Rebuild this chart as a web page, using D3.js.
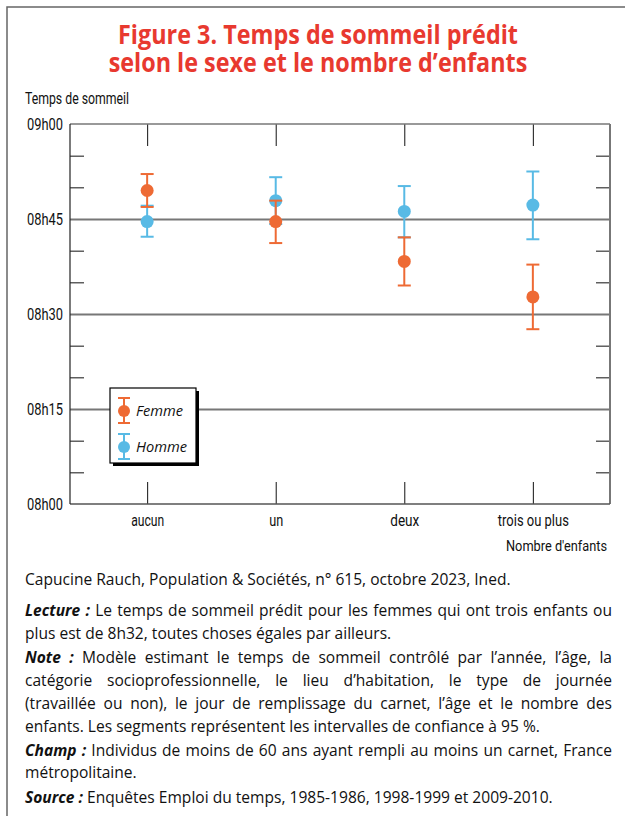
<!DOCTYPE html>
<html><head><meta charset="utf-8">
<script src="https://cdn.jsdelivr.net/npm/d3@7"></script>
<style>body{margin:0;background:#fff}</style>
</head><body>
<svg id="c" width="625" height="816"></svg>
<script>
// ---- data (minutes since midnight) ----
const categories = ["aucun", "un", "deux", "trois ou plus"];
const femme     = [529.5, 524.6, 518.3, 512.7];
const femmeLow  = [526.9, 521.2, 514.5, 507.6];
const femmeHigh = [532.1, 527.9, 522.1, 517.8];
const homme     = [524.6, 527.9, 526.2, 527.2];
const hommeLow  = [522.2, 524.2, 522.1, 521.8];
const hommeHigh = [527.1, 531.6, 530.2, 532.5];
const yTickValues = [480, 495, 510, 525, 540];
const yTickLabels = ["08h00", "08h15", "08h30", "08h45", "09h00"];
const gridValues = [495, 510, 525];
const minorTickValues = [485, 490, 500, 505, 515, 520, 530, 535];
const seriesNames = ["Femme", "Homme"];
const seriesColors = ["#ee6a34", "#58bae5"];
const titleLines = ["Figure 3. Temps de sommeil prédit", "selon le sexe et le nombre d’enfants"];
const yAxisTitle = "Temps de sommeil";
const xAxisTitle = "Nombre d'enfants";
const footLines = [
  [["", "Capucine Rauch, Population & Sociétés, n° 615, octobre 2023, Ined."]],
  [["b", "Lecture :"], ["", " Le temps de sommeil prédit pour les femmes qui ont trois enfants ou"]],
  [["", "plus est de 8h32, toutes choses égales par ailleurs."]],
  [["b", "Note :"], ["", " Modèle estimant le temps de sommeil contrôlé par l’année, l’âge, la"]],
  [["", "catégorie socioprofessionnelle, le lieu d’habitation, le type de journée"]],
  [["", "(travaillée ou non), le jour de remplissage du carnet, l’âge et le nombre des"]],
  [["", "enfants. Les segments représentent les intervalles de confiance à 95 %."]],
  [["b", "Champ :"], ["", " Individus de moins de 60 ans ayant rempli au moins un carnet, France"]],
  [["", "métropolitaine."]],
  [["b", "Source :"], ["", " Enquêtes Emploi du temps, 1985-1986, 1998-1999 et 2009-2010."]]
];
const justifiedLines = [1, 3, 4, 5, 7];

// ---- layout ----
const svg = d3.select("#c");
const W = 625, H = 816;
const cond = "'Liberation Sans Narrow','Roboto','Open Sans',sans-serif";
const body = "'Open Sans','Noto Sans',sans-serif";
const fit = (sel, w, adj) => sel.attr("textLength", w).attr("lengthAdjust", adj || "spacingAndGlyphs");

// outer frame (left and top)
svg.append("path").attr("d", `M7,${H} V7 H${W}`).attr("fill", "none")
  .attr("stroke", "#666").attr("stroke-width", 1.5);

// title: a single text with two lines, condensed uniformly
const title = svg.append("text").attr("font-family", body).attr("font-weight", 700)
  .attr("font-size", 26).attr("fill", "#e8392f").attr("text-anchor", "middle");
titleLines.forEach((t, i) => {
  title.append("tspan").attr("x", 0).attr("y", 44 + i * 28).text(t);
});
const tw = title.select("tspan").node().getComputedTextLength();
const tsx = 400 / tw;
title.attr("transform", `translate(318,0) scale(${tsx},1)`);

// plot area
const m = {l: 70, r: 610, t: 124, b: 504};
const x = d3.scalePoint().domain(categories).range([m.l, m.r]).padding(0.6);
const y = d3.scaleLinear().domain([480, 540]).range([m.b, m.t]);

// grid
svg.append("g").attr("transform", `translate(${m.l},0)`)
  .call(d3.axisLeft(y).tickValues(gridValues).tickSize(-(m.r - m.l)).tickFormat(""))
  .call(g => g.select(".domain").remove())
  .call(g => g.selectAll("line").attr("stroke", "#777").attr("stroke-width", 2));

// minor ticks left & right
svg.append("g").attr("transform", `translate(${m.l},0)`)
  .call(d3.axisLeft(y).tickValues(minorTickValues).tickSize(-14).tickFormat(""))
  .call(g => g.select(".domain").remove())
  .call(g => g.selectAll("line").attr("stroke", "#111").attr("stroke-width", 1));
svg.append("g").attr("transform", `translate(${m.r},0)`)
  .call(d3.axisRight(y).tickValues(minorTickValues).tickSize(-14).tickFormat(""))
  .call(g => g.select(".domain").remove())
  .call(g => g.selectAll("line").attr("stroke", "#111").attr("stroke-width", 1));

// x ticks top & bottom
svg.append("g").attr("transform", `translate(0,${m.t})`)
  .call(d3.axisTop(x).tickSize(-22).tickFormat(""))
  .call(g => g.select(".domain").remove())
  .call(g => g.selectAll("line").attr("stroke", "#111").attr("stroke-width", 1));
svg.append("g").attr("transform", `translate(0,${m.b})`)
  .call(d3.axisBottom(x).tickSize(-22).tickFormat(""))
  .call(g => g.select(".domain").remove())
  .call(g => g.selectAll("line").attr("stroke", "#111").attr("stroke-width", 1));

// frame of plot
svg.append("line").attr("x1", m.l).attr("x2", m.r).attr("y1", m.t).attr("y2", m.t).attr("stroke", "#777").attr("stroke-width", 1.5);
svg.append("line").attr("x1", m.r).attr("x2", m.r).attr("y1", m.t).attr("y2", m.b).attr("stroke", "#777").attr("stroke-width", 2);
svg.append("line").attr("x1", m.l).attr("x2", m.r).attr("y1", m.b).attr("y2", m.b).attr("stroke", "#555").attr("stroke-width", 1.5);
svg.append("line").attr("x1", m.l).attr("x2", m.l).attr("y1", m.t).attr("y2", m.b).attr("stroke", "#222").attr("stroke-width", 1.2);

// y labels
const yl = svg.append("g").attr("transform", `translate(${m.l},0)`)
  .call(d3.axisLeft(y).tickValues(yTickValues).tickSize(0).tickPadding(7)
    .tickFormat((d, i) => yTickLabels[i]));
yl.select(".domain").remove();
yl.selectAll("text").attr("font-family", cond).attr("font-size", 16).attr("fill", "#111")
  .attr("dy", "0.36em").call(fit, 36);

// y axis title
svg.append("text").attr("x", 25).attr("y", 104).attr("font-family", cond).attr("font-size", 16)
  .attr("fill", "#111").text(yAxisTitle).call(fit, 104);

// x labels
const xLabW = [33, 14, 29, 71];
const xl = svg.append("g").attr("transform", `translate(0,${m.b})`)
  .call(d3.axisBottom(x).tickSize(0).tickPadding(11));
xl.select(".domain").remove();
xl.selectAll("text").attr("font-family", cond).attr("font-size", 16).attr("fill", "#111")
  .each(function(d, i) { d3.select(this).call(fit, xLabW[i]); });
svg.append("text").attr("x", 607).attr("y", 551).attr("text-anchor", "end")
  .attr("font-family", cond).attr("font-size", 15).attr("fill", "#111").text(xAxisTitle).call(fit, 101);

// error bars
const series = [
  {name: seriesNames[1], color: seriesColors[1], v: homme, lo: hommeLow, hi: hommeHigh},
  {name: seriesNames[0], color: seriesColors[0], v: femme, lo: femmeLow, hi: femmeHigh}
];
const cap = 6.5, r = 6.5;
series.forEach(s => {
  const g = svg.append("g");
  categories.forEach((c, i) => {
    const cx = x(c);
    g.append("line").attr("x1", cx).attr("x2", cx).attr("y1", y(s.lo[i])).attr("y2", y(s.hi[i]))
      .attr("stroke", s.color).attr("stroke-width", 2);
    [s.lo[i], s.hi[i]].forEach(v => g.append("line").attr("x1", cx - cap).attr("x2", cx + cap)
      .attr("y1", y(v)).attr("y2", y(v)).attr("stroke", s.color).attr("stroke-width", 2));
    g.append("circle").attr("cx", cx).attr("cy", y(s.v[i])).attr("r", r).attr("fill", s.color);
  });
});

// legend
const lg = svg.append("g").attr("transform", "translate(110,388)");
lg.append("rect").attr("x", 3).attr("y", 3).attr("width", 86).attr("height", 75).attr("fill", "#000");
lg.append("rect").attr("x", 0).attr("y", 0).attr("width", 86).attr("height", 75).attr("fill", "#fff")
  .attr("stroke", "#000").attr("stroke-width", 1.2);
const legW = [47, 51];
seriesNames.forEach((n, i) => {
  const cy = 23 + i * 36, col = seriesColors[i];
  const it = lg.append("g");
  it.append("line").attr("x1", 14).attr("x2", 14).attr("y1", cy - 13).attr("y2", cy + 12).attr("stroke", col).attr("stroke-width", 2);
  [cy - 13, cy + 12].forEach(v => it.append("line").attr("x1", 8).attr("x2", 20).attr("y1", v).attr("y2", v).attr("stroke", col).attr("stroke-width", 2));
  it.append("circle").attr("cx", 14).attr("cy", cy).attr("r", 6).attr("fill", col);
  it.append("text").attr("x", 26).attr("y", cy + 5).attr("font-family", body).attr("font-style", "italic")
    .attr("font-size", 15).attr("fill", "#111").text(n).call(fit, legW[i]);
});

// footnotes: one uniform condensation, justified lines via word spacing
const footY = [585, 616, 639, 663, 686, 709, 732, 756, 778, 803];
const fg = svg.append("g");
const texts = footLines.map((parts, i) => {
  const t = fg.append("text").attr("x", 0).attr("y", footY[i]).attr("font-family", body)
    .attr("font-size", 16.5).attr("fill", "#111");
  parts.forEach(p => {
    const ts = t.append("tspan").text(p[1]);
    if (p[0] === "b") ts.attr("font-weight", 700).attr("font-style", "italic");
  });
  return t;
});
const sx = 486 / texts[0].node().getComputedTextLength();
fg.attr("transform", `translate(25,0) scale(${sx},1)`);
const target = (612 - 25) / sx;
justifiedLines.forEach(i => {
  const t = texts[i];
  const nat = t.node().getComputedTextLength();
  const spaces = footLines[i].map(p => p[1]).join("").split(" ").length - 1;
  t.style("word-spacing", ((target - nat) / spaces) + "px");
});
</script>
</body></html>
